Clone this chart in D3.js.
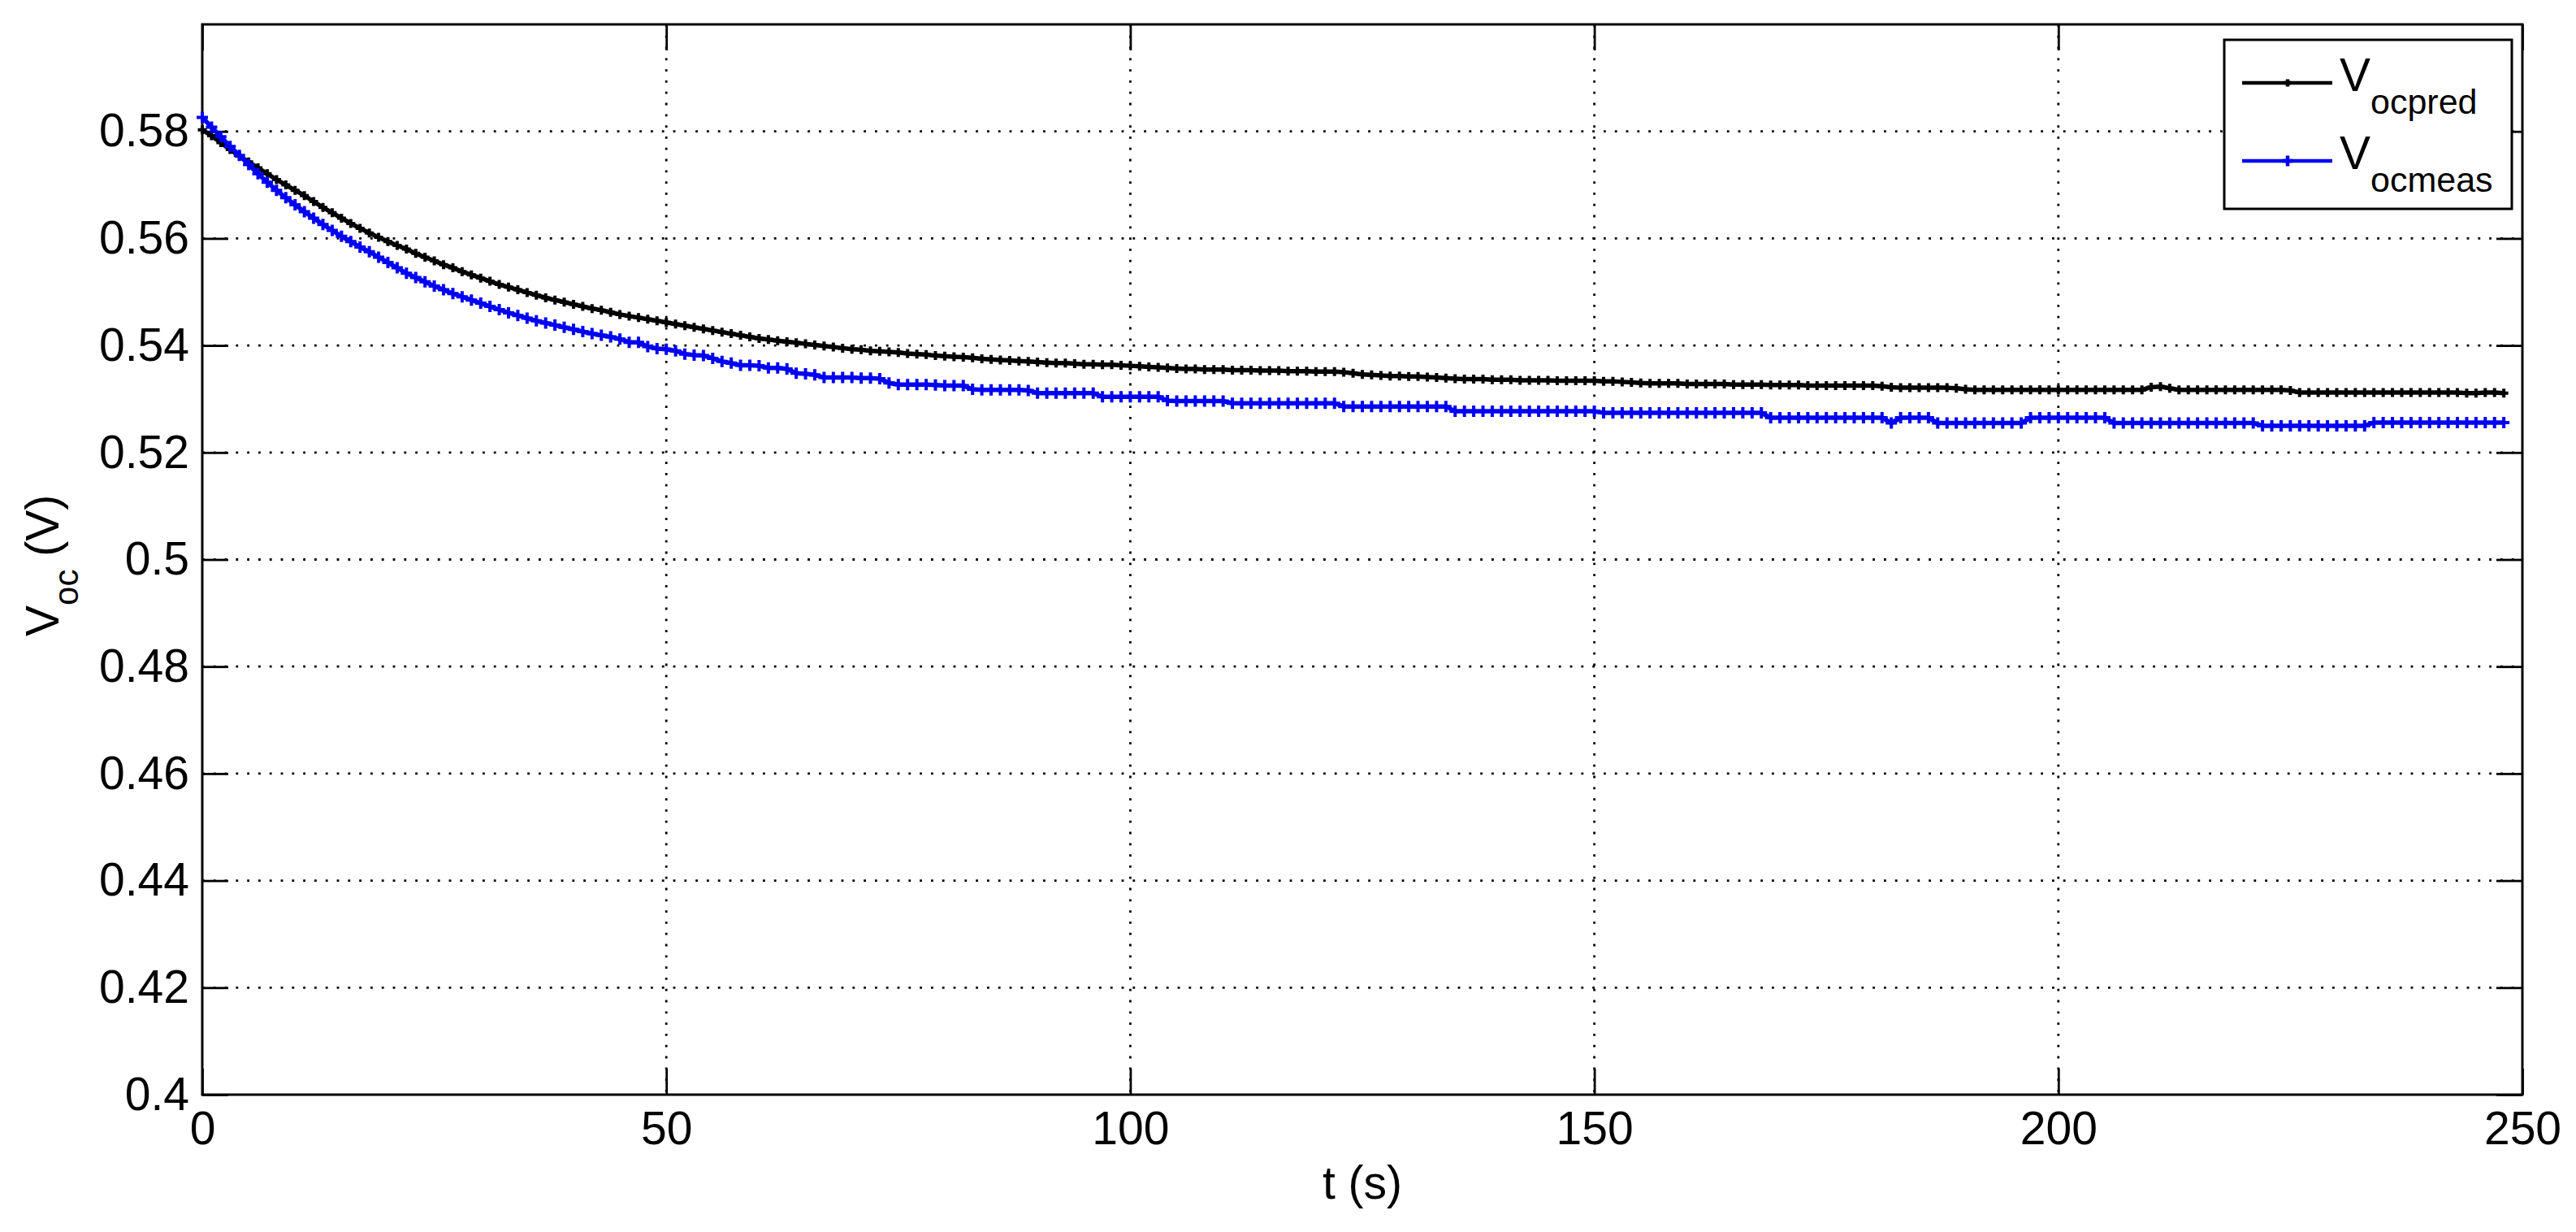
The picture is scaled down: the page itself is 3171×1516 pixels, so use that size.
<!DOCTYPE html>
<html>
<head>
<meta charset="utf-8">
<script src="https://cdn.jsdelivr.net/npm/d3@7"></script>
<style>
  body { margin: 0; background: #fff; }
  text { font-family: "Liberation Sans", Arial, Helvetica, sans-serif; fill: #000; }
</style>
</head>
<body>
<svg id="chart" width="3171" height="1516"></svg>
<script>
// readings, one sample per second from t = 0 to 248 s
var vPred = [
  0.5803, 0.5792, 0.5779, 0.5766, 0.5754, 0.5743, 0.5732, 0.5721, 0.5710, 0.5700, 0.5690,
  0.5680, 0.5669, 0.5658, 0.5648, 0.5638, 0.5628, 0.5619, 0.5610, 0.5602, 0.5594,
  0.5587, 0.5580, 0.5572, 0.5565, 0.5558, 0.5551, 0.5545, 0.5538, 0.5532, 0.5526,
  0.5520, 0.5514, 0.5509, 0.5504, 0.5499, 0.5494, 0.5489, 0.5485, 0.5481, 0.5477,
  0.5473, 0.5469, 0.5466, 0.5462, 0.5458, 0.5455, 0.5452, 0.5449, 0.5446, 0.5443,
  0.5440, 0.5437, 0.5434, 0.5431, 0.5428, 0.5425, 0.5422, 0.5419, 0.5416, 0.5413,
  0.5411, 0.5409, 0.5407, 0.5405, 0.5403, 0.5401, 0.5399, 0.5397, 0.5395, 0.5393,
  0.5392, 0.5390, 0.5389, 0.5388, 0.5387, 0.5385, 0.5384, 0.5383, 0.5381, 0.5380,
  0.5379, 0.5378, 0.5377, 0.5375, 0.5374, 0.5373, 0.5372, 0.5371, 0.5370, 0.5369,
  0.5368, 0.5367, 0.5367, 0.5366, 0.5365, 0.5365, 0.5364, 0.5364, 0.5363, 0.5362,
  0.5361, 0.5360, 0.5359, 0.5358, 0.5357, 0.5356, 0.5356, 0.5355, 0.5355, 0.5355,
  0.5354, 0.5354, 0.5354, 0.5353, 0.5353, 0.5353, 0.5352, 0.5352, 0.5352, 0.5351,
  0.5351, 0.5351, 0.5350, 0.5348, 0.5346, 0.5345, 0.5344, 0.5343, 0.5343, 0.5342,
  0.5342, 0.5341, 0.5340, 0.5339, 0.5338, 0.5337, 0.5337, 0.5337, 0.5336, 0.5336,
  0.5336, 0.5335, 0.5335, 0.5335, 0.5335, 0.5334, 0.5334, 0.5334, 0.5334, 0.5334,
  0.5333, 0.5333, 0.5332, 0.5331, 0.5330, 0.5329, 0.5329, 0.5329, 0.5329, 0.5328,
  0.5328, 0.5328, 0.5328, 0.5328, 0.5327, 0.5327, 0.5327, 0.5327, 0.5326, 0.5326,
  0.5326, 0.5326, 0.5325, 0.5325, 0.5325, 0.5325, 0.5325, 0.5325, 0.5325, 0.5325,
  0.5324, 0.5322, 0.5321, 0.5321, 0.5321, 0.5321, 0.5321, 0.5321, 0.5320, 0.5318,
  0.5317, 0.5317, 0.5317, 0.5317, 0.5317, 0.5317, 0.5317, 0.5317, 0.5317, 0.5317,
  0.5317, 0.5317, 0.5317, 0.5317, 0.5317, 0.5317, 0.5317, 0.5317, 0.5317, 0.5322,
  0.5323, 0.5320, 0.5317, 0.5317, 0.5317, 0.5317, 0.5317, 0.5317, 0.5317, 0.5317,
  0.5317, 0.5317, 0.5317, 0.5317, 0.5316, 0.5312, 0.5312, 0.5312, 0.5312, 0.5312,
  0.5312, 0.5312, 0.5312, 0.5312, 0.5312, 0.5312, 0.5312, 0.5312, 0.5312, 0.5312,
  0.5312, 0.5312, 0.5312, 0.5311, 0.5311, 0.5312, 0.5312, 0.5311
];

var vMeas = [
  0.5826, 0.5808, 0.5790, 0.5772, 0.5755, 0.5738, 0.5721, 0.5705, 0.5690, 0.5676, 0.5663,
  0.5650, 0.5638, 0.5626, 0.5615, 0.5604, 0.5594, 0.5584, 0.5575, 0.5565, 0.5555,
  0.5545, 0.5535, 0.5527, 0.5519, 0.5511, 0.5504, 0.5497, 0.5491, 0.5485, 0.5479,
  0.5473, 0.5467, 0.5461, 0.5456, 0.5451, 0.5446, 0.5442, 0.5438, 0.5434, 0.5430,
  0.5426, 0.5422, 0.5419, 0.5416, 0.5412, 0.5406, 0.5406, 0.5398, 0.5394, 0.5393,
  0.5390, 0.5384, 0.5382, 0.5381, 0.5376, 0.5370, 0.5367, 0.5363, 0.5363, 0.5362,
  0.5358, 0.5358, 0.5356, 0.5348, 0.5347, 0.5345, 0.5340, 0.5340, 0.5340, 0.5340,
  0.5339, 0.5339, 0.5338, 0.5330, 0.5327, 0.5327, 0.5327, 0.5327, 0.5326, 0.5325,
  0.5325, 0.5325, 0.5318, 0.5317, 0.5317, 0.5317, 0.5317, 0.5317, 0.5316, 0.5311,
  0.5311, 0.5311, 0.5311, 0.5311, 0.5311, 0.5311, 0.5304, 0.5304, 0.5304, 0.5304,
  0.5304, 0.5304, 0.5304, 0.5297, 0.5296, 0.5296, 0.5296, 0.5296, 0.5296, 0.5296,
  0.5292, 0.5292, 0.5292, 0.5292, 0.5292, 0.5292, 0.5292, 0.5292, 0.5292, 0.5292,
  0.5292, 0.5292, 0.5286, 0.5286, 0.5286, 0.5286, 0.5286, 0.5286, 0.5286, 0.5286,
  0.5286, 0.5286, 0.5286, 0.5286, 0.5277, 0.5277, 0.5277, 0.5277, 0.5277, 0.5277,
  0.5277, 0.5277, 0.5277, 0.5277, 0.5277, 0.5277, 0.5277, 0.5277, 0.5277, 0.5277,
  0.5274, 0.5274, 0.5274, 0.5274, 0.5274, 0.5274, 0.5274, 0.5274, 0.5274, 0.5274,
  0.5274, 0.5274, 0.5274, 0.5274, 0.5274, 0.5274, 0.5274, 0.5274, 0.5265, 0.5265,
  0.5265, 0.5265, 0.5265, 0.5265, 0.5265, 0.5265, 0.5265, 0.5265, 0.5265, 0.5265,
  0.5265, 0.5255, 0.5265, 0.5265, 0.5265, 0.5265, 0.5255, 0.5255, 0.5255, 0.5255,
  0.5255, 0.5255, 0.5255, 0.5255, 0.5255, 0.5255, 0.5265, 0.5265, 0.5265, 0.5265,
  0.5265, 0.5265, 0.5265, 0.5265, 0.5265, 0.5255, 0.5255, 0.5255, 0.5255, 0.5255,
  0.5255, 0.5255, 0.5255, 0.5255, 0.5255, 0.5255, 0.5255, 0.5255, 0.5255, 0.5255,
  0.5255, 0.5250, 0.5250, 0.5250, 0.5250, 0.5250, 0.5250, 0.5250, 0.5250, 0.5250,
  0.5250, 0.5250, 0.5250, 0.5256, 0.5256, 0.5256, 0.5256, 0.5256, 0.5256, 0.5256,
  0.5256, 0.5256, 0.5256, 0.5256, 0.5256, 0.5256, 0.5256, 0.5256
];

var xTicks = [0, 50, 100, 150, 200, 250];
var yTicks = [0.4, 0.42, 0.44, 0.46, 0.48, 0.5, 0.52, 0.54, 0.56, 0.58];
var yTickLabels = ["0.4", "0.42", "0.44", "0.46", "0.48", "0.5", "0.52", "0.54", "0.56", "0.58"];

var seriesNames = ["ocpred", "ocmeas"];
var seriesColors = ["#000000", "#0000f5"];

(function() {
var svg = d3.select("#chart");
var pL = 249, pR = 3105, pT = 30, pB = 1347;

var x = d3.scaleLinear().domain([0, 250]).range([pL, pR]);
var y = d3.scaleLinear().domain([0.4, 0.6]).range([pB, pT]);

svg.append("rect").attr("width", 3171).attr("height", 1516).attr("fill", "#fff");

// dotted grid
svg.append("g").selectAll("line").data(xTicks.slice(1, -1)).join("line")
    .attr("x1", d => x(d)).attr("x2", d => x(d))
    .attr("y1", pT).attr("y2", pB)
    .attr("stroke", "#000").attr("stroke-width", 2.8)
    .attr("stroke-dasharray", "2.8 11");
svg.append("g").selectAll("line").data(yTicks.slice(1)).join("line")
    .attr("x1", pL).attr("x2", pR)
    .attr("y1", d => y(d)).attr("y2", d => y(d))
    .attr("stroke", "#000").attr("stroke-width", 2.8)
    .attr("stroke-dasharray", "2.8 11");

// axes, ticks pointing inward
var fs = 57;
var gx = svg.append("g").attr("transform", "translate(0," + pB + ")")
    .call(d3.axisBottom(x).tickValues(xTicks).tickSize(-32).tickPadding(21).tickFormat(d3.format("d")));
var gy = svg.append("g").attr("transform", "translate(" + pL + ",0)")
    .call(d3.axisLeft(y).tickValues(yTicks).tickSize(-32).tickPadding(16).tickFormat((d, i) => yTickLabels[i]));
var gt = svg.append("g").attr("transform", "translate(0," + pT + ")")
    .call(d3.axisTop(x).tickValues(xTicks).tickSize(-32).tickFormat(""));
var gr = svg.append("g").attr("transform", "translate(" + pR + ",0)")
    .call(d3.axisRight(y).tickValues(yTicks).tickSize(-32).tickFormat(""));

[gx, gy, gt, gr].forEach(function(g) {
  g.select(".domain").remove();
  g.selectAll(".tick line").attr("stroke", "#000").attr("stroke-width", 2.8);
  g.selectAll(".tick text").attr("font-size", fs).attr("font-family", null).attr("fill", "#000");
});

svg.append("rect")
    .attr("x", pL).attr("y", pT)
    .attr("width", pR - pL).attr("height", pB - pT)
    .attr("fill", "none").attr("stroke", "#000").attr("stroke-width", 3);

// series
var line = d3.line().x(d => x(d.t)).y(d => y(d.v));
var series = [vPred, vMeas].map(function(vals, k) {
  return { name: seriesNames[k], color: seriesColors[k],
           pts: vals.map((v, i) => ({ t: i, v: v })) };
});
var markSize = [5.5, 7];

series.forEach(function(s, k) {
  var g = svg.append("g");
  g.append("path").datum(s.pts)
      .attr("d", line)
      .attr("fill", "none").attr("stroke", s.color)
      .attr("stroke-width", 5.5).attr("stroke-linejoin", "round");
  var m = markSize[k];
  g.append("path")
      .attr("d", s.pts.map(d => "M" + (x(d.t) - m) + "," + y(d.v) + "h" + (2 * m) +
                               "M" + x(d.t) + "," + (y(d.v) - m) + "v" + (2 * m)).join(""))
      .attr("fill", "none").attr("stroke", s.color).attr("stroke-width", 4);
});

// axis labels
svg.append("text")
    .attr("x", (pL + pR) / 2).attr("y", 1475)
    .attr("text-anchor", "middle").attr("font-size", fs)
    .text("t (s)");

var yl = svg.append("text")
    .attr("transform", "translate(72,783) rotate(-90)")
    .attr("font-size", fs);
yl.append("tspan").text("V");
yl.append("tspan").attr("font-size", 42).attr("dy", 24).text("oc");
yl.append("tspan").attr("dy", -24).text(" (V)");

// legend
var lg = svg.append("g").attr("transform", "translate(2738,49)");
lg.append("rect").attr("width", 354).attr("height", 208)
    .attr("fill", "#fff").attr("stroke", "#000").attr("stroke-width", 3);
series.forEach(function(s, k) {
  var ly = 53 + k * 96;
  lg.append("line").attr("x1", 22).attr("x2", 133).attr("y1", ly).attr("y2", ly)
      .attr("stroke", s.color).attr("stroke-width", 4.5);
  var m = k === 0 ? 4.5 : 6.5;
  lg.append("path")
      .attr("d", "M" + (78 - m) + "," + ly + "h" + (2 * m) + "M78," + (ly - m) + "v" + (2 * m))
      .attr("stroke", s.color).attr("stroke-width", 4.5);
  var t = lg.append("text").attr("x", 142).attr("y", ly + 10).attr("font-size", fs);
  t.append("tspan").text("V");
  t.append("tspan").attr("font-size", 43).attr("dy", 28).text(s.name);
});
})();
</script>
</body>
</html>
